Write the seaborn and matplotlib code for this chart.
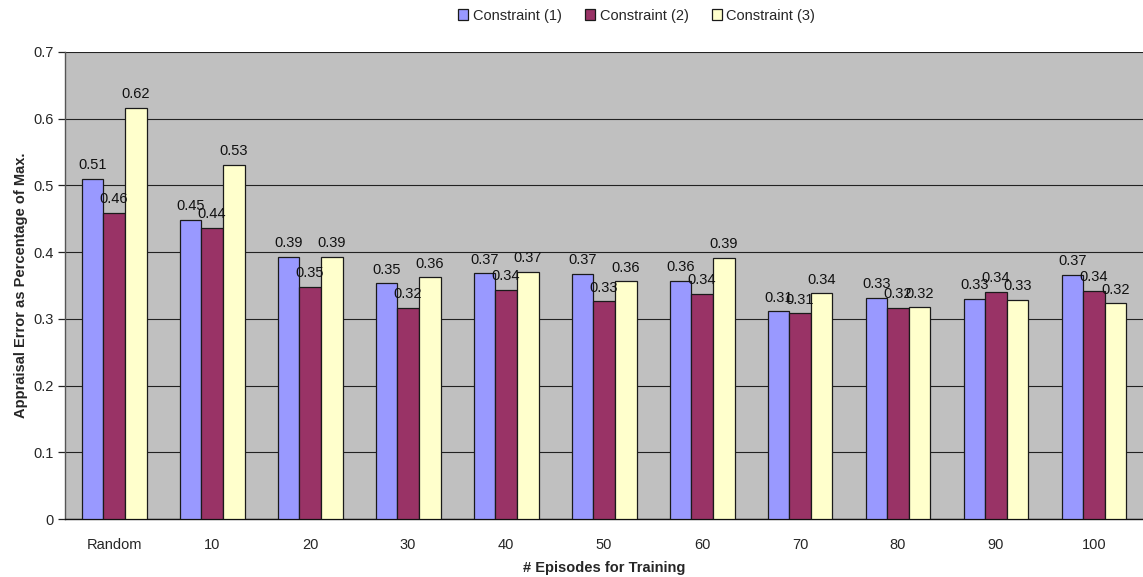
import matplotlib
matplotlib.use("Agg")
import matplotlib.pyplot as plt
import seaborn as sns
import pandas as pd

categories = ["Random", "10", "20", "30", "40", "50", "60", "70", "80", "90", "100"]
series_names = ["Constraint (1)", "Constraint (2)", "Constraint (3)"]
constraint_1 = [0.510, 0.448, 0.393, 0.353, 0.368, 0.367, 0.357, 0.311, 0.331, 0.330, 0.366]
constraint_2 = [0.459, 0.436, 0.348, 0.316, 0.343, 0.326, 0.337, 0.308, 0.316, 0.340, 0.342]
constraint_3 = [0.616, 0.530, 0.393, 0.362, 0.370, 0.356, 0.391, 0.338, 0.317, 0.328, 0.323]
colors = ["#9999FF", "#993366", "#FFFFCC"]
y_ticks = [0, 0.1, 0.2, 0.3, 0.4, 0.5, 0.6, 0.7]

rows = []
for name, vals in zip(series_names, [constraint_1, constraint_2, constraint_3]):
    for cat, v in zip(categories, vals):
        rows.append({"Episodes": cat, "Series": name, "Error": v})
df = pd.DataFrame(rows)

sns.set_theme(style="white")
plt.rcParams["font.family"] = ["Liberation Sans", "DejaVu Sans"]

fig = plt.figure(figsize=(11.43, 5.77), dpi=100)
ax = fig.add_axes([0.0569, 0.1005, 0.9431, 0.8095])
ax.set_facecolor("#C0C0C0")

sns.barplot(data=df, x="Episodes", y="Error", hue="Series", order=categories,
            hue_order=series_names, palette=colors, width=0.663, gap=0,
            edgecolor="#1a1a1a", linewidth=0.9, saturation=1, errorbar=None,
            ax=ax, zorder=3)

for cont in ax.containers:
    ax.bar_label(cont, fmt="{:.2f}", padding=5, fontsize=10.5, color="#111111")

ax.set_ylim(0, 0.7)
ax.set_xlim(-0.5, len(categories) - 0.5)
ax.set_yticks(y_ticks)
ax.set_yticklabels([f"{t:g}" for t in y_ticks], fontsize=10.5)
ax.yaxis.grid(True, color="#222222", linewidth=0.8, zorder=0)
ax.set_axisbelow(True)

# category labels centred, tick marks on category boundaries
ax.set_xticks(range(len(categories)))
ax.set_xticklabels(categories, fontsize=10.5)
ax.tick_params(axis="x", length=0, pad=14)
ax.set_xticks([i - 0.5 for i in range(len(categories) + 1)], minor=True)
ax.tick_params(axis="x", which="minor", length=5, width=0.9, color="#222222", direction="out")
ax.tick_params(axis="y", length=5, width=0.9, color="#222222", direction="out", left=True, pad=3)

for side in ["top", "right"]:
    ax.spines[side].set_visible(False)
ax.spines["left"].set_color("#555555")
ax.spines["left"].set_linewidth(1.0)
ax.spines["bottom"].set_color("#111111")
ax.spines["bottom"].set_linewidth(1.0)

ax.set_xlabel("# Episodes for Training", fontsize=10.5, fontweight="bold", labelpad=6)
ax.set_ylabel("Appraisal Error as Percentage of Max.", fontsize=10.5, fontweight="bold", labelpad=4)

handles, labels = ax.get_legend_handles_labels()
ax.legend_.remove()
fig.legend(handles, labels, loc="center", bbox_to_anchor=(0.557, 0.973), ncol=3,
           frameon=False, fontsize=10.5, handlelength=0.7, handleheight=0.7,
           handletextpad=0.3, columnspacing=1.6)

fig.savefig("out.png", dpi=100)
